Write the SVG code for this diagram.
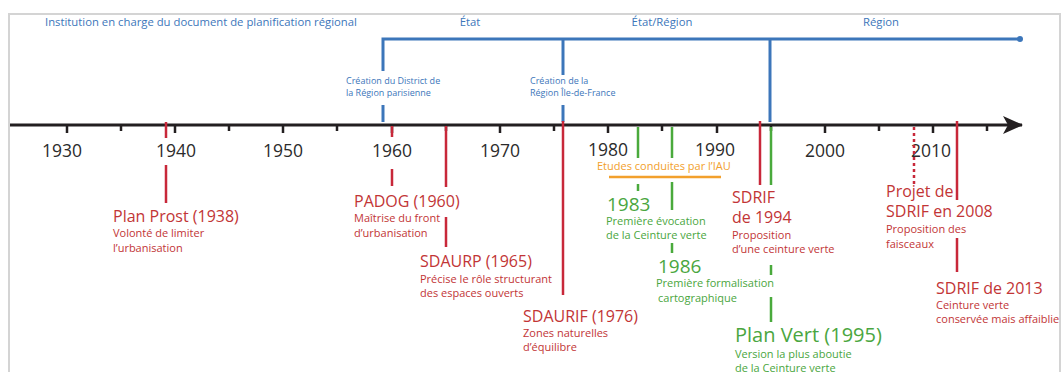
<svg xmlns="http://www.w3.org/2000/svg" width="1062" height="372" viewBox="0 0 1062 372">
<style>
text{font-family:"Open Sans","Liberation Sans",sans-serif;}
.hdr{font-size:11.3px;fill:#3c76ba;}
.inst{font-size:9px;fill:#3c76ba;}
.yr{font-size:17.5px;fill:#2b2b2b;text-anchor:middle;}
.rt{font-size:16px;fill:#c23536;}
.rs{font-size:11px;fill:#c23536;}
.gt{font-size:19px;fill:#4aa640;}
.gs{font-size:11px;fill:#4aa640;}
.ot{font-size:11px;fill:#f2a02c;}
.red{stroke:#c8283a;stroke-width:2.5;fill:none;}
.grn{stroke:#4aaa3c;stroke-width:2.5;fill:none;}
.blu{stroke:#3c76ba;stroke-width:3;fill:none;}
.tick{stroke:#231f20;stroke-width:2.5;}
</style>
<defs>
<marker id="arr" viewBox="0 0 20 18" refX="19" refY="9" markerWidth="20" markerHeight="18" markerUnits="userSpaceOnUse" orient="auto">
<path d="M0,0 L20,9 L0,18 L5,9 Z" fill="#231f20"/>
</marker>
</defs>
<rect width="1062" height="372" fill="#fff"/>
<g id="frame" stroke="#d4d4d4" stroke-width="2" fill="none">
<path d="M9,372 V14 H1060 V372"/>
</g>
<g id="header">
<text class="hdr" x="45" y="26">Institution en charge du document de planification régional</text>
<text class="hdr" x="470" y="26" text-anchor="middle">État</text>
<text class="hdr" x="662" y="26" text-anchor="middle">État/Région</text>
<text class="hdr" x="881" y="26" text-anchor="middle">Région</text>
</g>
<g id="institution-line">
<path class="blu" d="M383,71 V39 H1020"/>
<path class="blu" d="M563,39 V75"/>
<path class="blu" d="M770,39 V122"/>
<path class="blu" d="M383,105 V122"/>
<path class="blu" d="M563,105 V122"/>
<circle cx="1020" cy="39" r="3" fill="#3c76ba"/>
</g>
<g id="district">
<text class="inst" x="346" y="84">Création du District de</text>
<text class="inst" x="346" y="96">la Région parisienne</text>
</g>
<g id="region-idf">
<text class="inst" x="530" y="84">Création de la</text>
<text class="inst" x="530" y="96">Région Île-de-France</text>
</g>
<g id="axis">
<line x1="10" y1="125" x2="1022" y2="125" stroke="#231f20" stroke-width="3" marker-end="url(#arr)"/>
<g class="tick">
<line x1="67" y1="125" x2="67" y2="133"/>
<line x1="121" y1="125" x2="121" y2="131"/>
<line x1="175" y1="125" x2="175" y2="133"/>
<line x1="229" y1="125" x2="229" y2="131"/>
<line x1="283" y1="125" x2="283" y2="133"/>
<line x1="337" y1="125" x2="337" y2="131"/>
<line x1="392" y1="125" x2="392" y2="133"/>
<line x1="446" y1="125" x2="446" y2="131"/>
<line x1="500" y1="125" x2="500" y2="133"/>
<line x1="554" y1="125" x2="554" y2="131"/>
<line x1="608" y1="125" x2="608" y2="133"/>
<line x1="662" y1="125" x2="662" y2="131"/>
<line x1="717" y1="125" x2="717" y2="133"/>
<line x1="771" y1="125" x2="771" y2="131"/>
<line x1="825" y1="125" x2="825" y2="133"/>
<line x1="879" y1="125" x2="879" y2="131"/>
<line x1="933" y1="125" x2="933" y2="133"/>
<line x1="987" y1="125" x2="987" y2="131"/>
</g>
<text class="yr" x="62" y="157">1930</text>
<text class="yr" x="176" y="157">1940</text>
<text class="yr" x="283" y="157">1950</text>
<text class="yr" x="392" y="157">1960</text>
<text class="yr" x="500" y="157">1970</text>
<text class="yr" x="608" y="156">1980</text>
<text class="yr" x="715" y="156">1990</text>
<text class="yr" x="825" y="157">2000</text>
<text class="yr" x="931" y="157">2010</text>
</g>
<g id="connectors">
<path class="red" d="M166,122 V138 M166,165 V203"/>
<path class="red" d="M392,126 V137 M392,169 V186"/>
<path class="red" d="M446,126 V187 M446,217 V247"/>
<path class="red" d="M563,121 V295"/>
<path class="grn" d="M638,127 V158 M638,184 V191"/>
<path class="grn" d="M672,127 V158 M672,182 V210 M672,243 V253"/>
<path class="red" d="M760,121 V185"/>
<path class="grn" d="M771,127 V185 M771,265 V275 M771,297 V322"/>
<path class="red" d="M914,127 V185" stroke-dasharray="3 3"/>
<path class="red" d="M957,121 V200 M957,238 V272"/>
<path d="M609,177 H721" stroke="#f2a02c" stroke-width="2.5"/>
</g>
<g id="plan-prost">
<text class="rt" x="113" y="222">Plan Prost (1938)</text>
<text class="rs" x="113" y="237">Volonté de limiter</text>
<text class="rs" x="113" y="252">l’urbanisation</text>
</g>
<g id="padog">
<text class="rt" x="354" y="207">PADOG (1960)</text>
<text class="rs" x="354" y="222">Maîtrise du front</text>
<text class="rs" x="354" y="237">d’urbanisation</text>
</g>
<g id="sdaurp">
<text class="rt" x="420" y="267">SDAURP (1965)</text>
<text class="rs" x="420" y="283">Précise le rôle structurant</text>
<text class="rs" x="420" y="297">des espaces ouverts</text>
</g>
<g id="sdaurif">
<text class="rt" x="523" y="322">SDAURIF (1976)</text>
<text class="rs" x="523" y="337">Zones naturelles</text>
<text class="rs" x="523" y="351">d’équilibre</text>
</g>
<g id="etudes-iau">
<text class="ot" x="597" y="170">Etudes conduites par l’IAU</text>
</g>
<g id="e1983">
<text class="gt" x="607" y="211">1983</text>
<text class="gs" x="606" y="225">Première évocation</text>
<text class="gs" x="606" y="239">de la Ceinture verte</text>
</g>
<g id="e1986">
<text class="gt" x="658" y="273">1986</text>
<text class="gs" x="656" y="287">Première formalisation</text>
<text class="gs" x="658" y="302">cartographique</text>
</g>
<g id="sdrif-1994">
<text class="rt" x="732" y="203">SDRIF</text>
<text class="rt" x="732" y="223">de 1994</text>
<text class="rs" x="732" y="239">Proposition</text>
<text class="rs" x="732" y="253">d’une ceinture verte</text>
</g>
<g id="plan-vert">
<text class="gt" x="735" y="342" style="font-size:20px">Plan Vert (1995)</text>
<text class="gs" x="735" y="358">Version la plus aboutie</text>
<text class="gs" x="735" y="372">de la Ceinture verte</text>
</g>
<g id="projet-sdrif-2008">
<text class="rt" x="886" y="197">Projet de</text>
<text class="rt" x="886" y="217">SDRIF en 2008</text>
<text class="rs" x="886" y="233">Proposition des</text>
<text class="rs" x="886" y="248">faisceaux</text>
</g>
<g id="sdrif-2013">
<text class="rt" x="936" y="294">SDRIF de 2013</text>
<text class="rs" x="936" y="309">Ceinture verte</text>
<text class="rs" x="936" y="323">conservée mais affaiblie</text>
</g>
</svg>
